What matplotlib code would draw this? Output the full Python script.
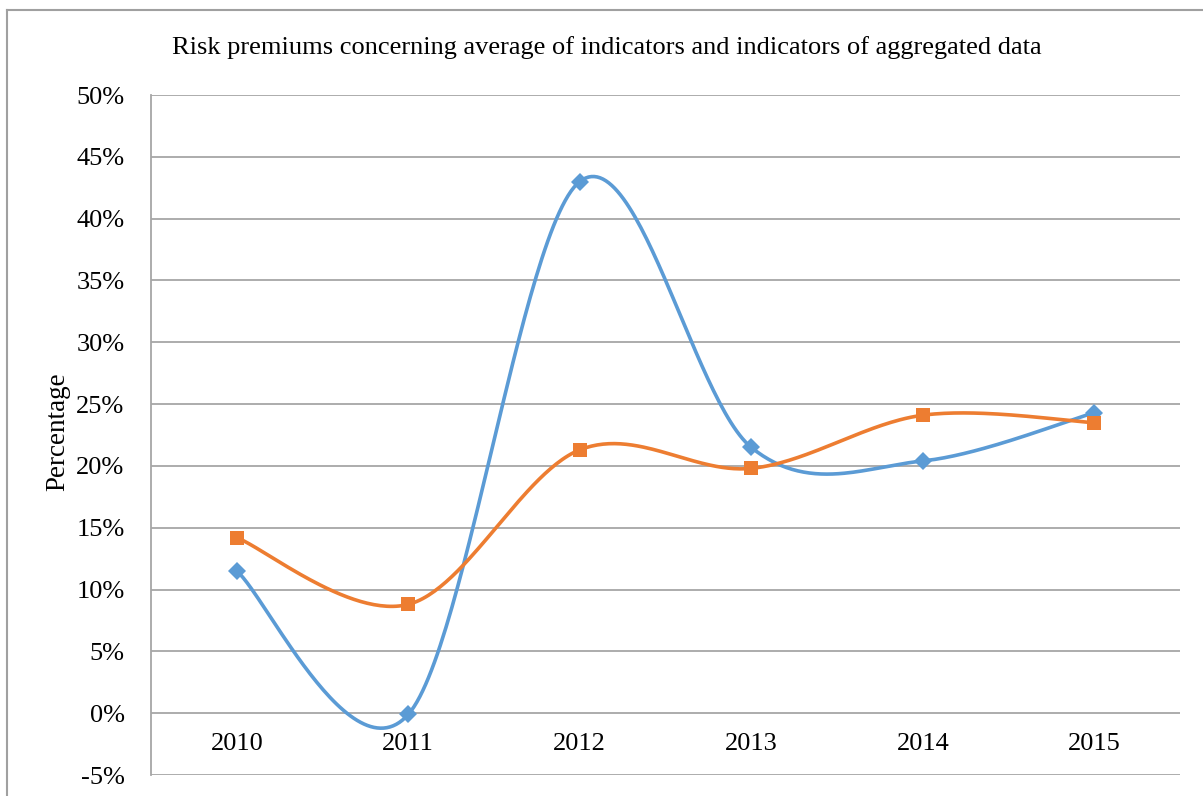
import numpy as np
import matplotlib
matplotlib.use("Agg")
import matplotlib.pyplot as plt
from matplotlib.lines import Line2D
from matplotlib.transforms import ScaledTranslation

# Chart data
years = ["2010", "2011", "2012", "2013", "2014", "2015"]
average_of_indicators = [11.5, -0.1, 43.0, 21.5, 20.4, 24.3]
aggregated_data = [14.2, 8.8, 21.3, 19.8, 24.1, 23.5]

BLUE = "#5B9BD5"
ORANGE = "#ED7D31"
GRID = "#A6A6A6"

plt.rcParams["font.family"] = ["Liberation Serif", "DejaVu Serif"]

W, H, DPI = 1203, 796, 100
fig = plt.figure(figsize=(W / DPI, H / DPI), dpi=DPI)

# Plot area in pixels
left, right, top, bottom = 151, 1180, 95, 775
ax = fig.add_axes([left / W, (H - bottom) / H, (right - left) / W, (bottom - top) / H])

ymin, ymax = -5, 50
ax.set_ylim(ymin, ymax)
ax.set_xlim(0, len(years))
xpos = np.arange(len(years)) + 0.5

# pixel scales used for smoothing in screen space
sx = (right - left) / len(years)
sy = (bottom - top) / (ymax - ymin)


def smooth(xs, ys, n=60):
    """Cubic Bezier smoothing through the points (Catmull-Rom style)."""
    P = np.column_stack([np.asarray(xs) * sx, np.asarray(ys) * sy])
    out = []
    m = len(P)
    for i in range(m - 1):
        p0 = P[i - 1] if i > 0 else P[i]
        p1 = P[i]
        p2 = P[i + 1]
        p3 = P[i + 2] if i + 2 < m else P[i + 1]
        c1 = p1 + (p2 - p0) / 6.0
        c2 = p2 - (p3 - p1) / 6.0
        t = np.linspace(0, 1, n)[:, None]
        seg = ((1 - t) ** 3) * p1 + 3 * ((1 - t) ** 2) * t * c1 + 3 * (1 - t) * t ** 2 * c2 + t ** 3 * p2
        out.append(seg if i == 0 else seg[1:])
    out = np.vstack(out)
    return out[:, 0] / sx, out[:, 1] / sy


# gridlines
for v in range(ymin, ymax + 1, 5):
    ax.axhline(v, color=GRID, lw=1.3, zorder=1)

for vals, color, marker, ms in [
    (average_of_indicators, BLUE, "D", 9),
    (aggregated_data, ORANGE, "s", 10),
]:
    cx, cy = smooth(xpos, vals)
    ax.plot(cx, cy, color=color, lw=2.6, solid_capstyle="round", zorder=3)
    ax.plot(xpos, vals, linestyle="none", marker=marker, ms=ms, color=color,
            markeredgewidth=0, zorder=4)

# axes styling
for s in ["top", "right", "bottom"]:
    ax.spines[s].set_visible(False)
ax.spines["left"].set_color(GRID)
ax.spines["left"].set_linewidth(1.3)

ax.set_yticks(range(ymin, ymax + 1, 5))
ax.set_yticklabels([f"{v}%" for v in range(ymin, ymax + 1, 5)])
ax.tick_params(axis="y", length=0, pad=19, labelsize=19)
ax.set_xticks([])

# category labels sit just below the zero line
off = ScaledTranslation(0, -31 / DPI, fig.dpi_scale_trans)
for x, lab in zip(xpos, years):
    ax.text(x, 0, lab, transform=ax.transData + off, ha="center", va="center", fontsize=19)

fig.text(58 / W, 1 - 432 / H, "Percentage", rotation=90, ha="center", va="center", fontsize=19.5)

fig.text(607 / W, 1 - 48 / H, "Risk premiums concerning average of indicators and indicators of aggregated data",
         ha="center", va="center", fontsize=19)

# chart frame
fig.add_artist(Line2D([7 / W, 1], [1 - 10 / H, 1 - 10 / H], color="#A0A0A0", lw=1.5, transform=fig.transFigure))
fig.add_artist(Line2D([7 / W, 7 / W], [0, 1 - 10 / H], color="#A0A0A0", lw=1.5, transform=fig.transFigure))

fig.savefig("out.png", dpi=DPI)
